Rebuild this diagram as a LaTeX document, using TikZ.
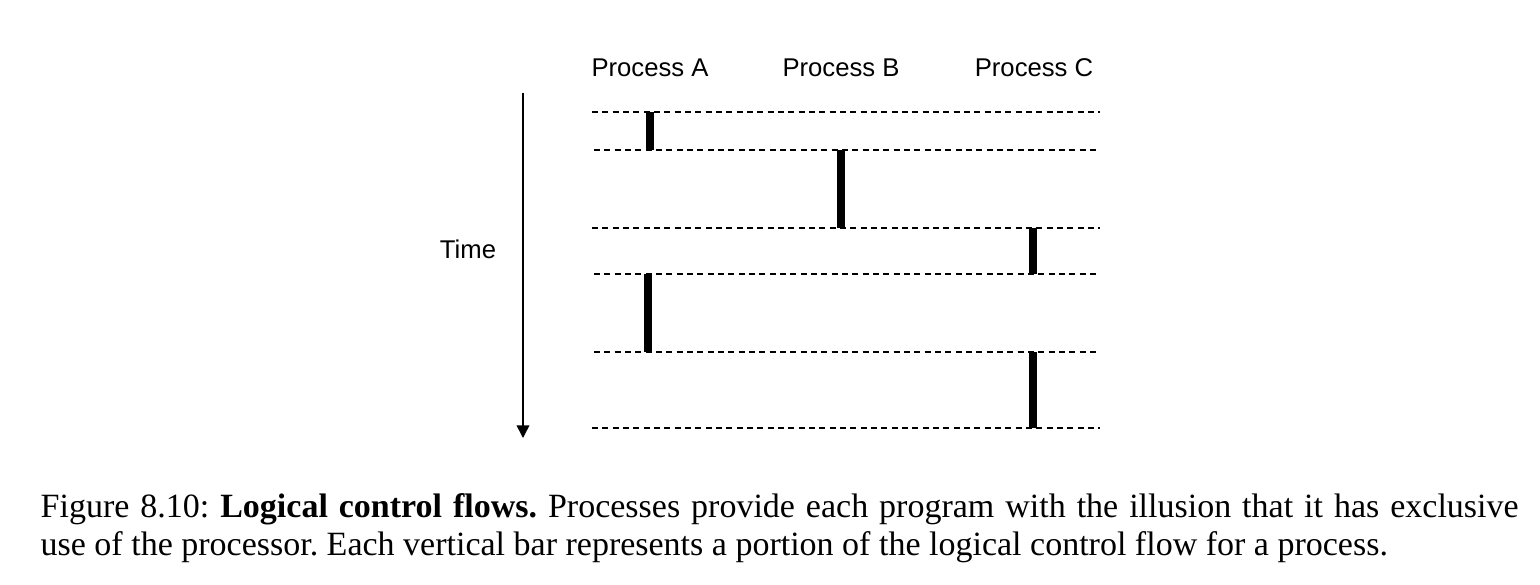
\documentclass[tikz,border=0pt]{standalone}
\usepackage{fontspec}
\setmainfont{Liberation Sans}
\newfontfamily\capfont{Liberation Serif}
\usetikzlibrary{arrows.meta}

\begin{document}
\begin{tikzpicture}[
  x=0.3pt, y=-0.3pt,
  >={Triangle[length=3.8pt, width=3.8pt]},
  slot/.style={draw=black, line width=0.45pt, dash pattern=on 1.8pt off 1.3pt},
  run/.style={draw=black, line width=2.4pt},
  timeax/.style={->, line width=0.45pt},
  lab/.style={font=\fontsize{7.7}{9}\selectfont, inner sep=0pt},
  captext/.style={font=\capfont\fontsize{10.2}{11.6}\selectfont\frenchspacing,
              inner sep=0pt, text width=443.4pt, align=justify},
]
\useasboundingbox (0,0) rectangle (1540,584);

% ------------------------------------------------------------------
% process columns and time axis
% ------------------------------------------------------------------
\node[lab] (pA) at (650,68) {Process A};
\node[lab] (pB) at (841,68) {Process B};
\node[lab] (pC) at (1034,68) {Process C};

\coordinate (tTop) at (523,93);
\coordinate (tEnd) at (523,438);
\draw[timeax] (tTop) -- (tEnd);
\node[lab] (time) at (468,249) {Time};

% ------------------------------------------------------------------
% context switch instants (dashed)
% ------------------------------------------------------------------
\coordinate (s1) at (592,112);  \coordinate (e1) at (1100,112);
\coordinate (s2) at (594,150);  \coordinate (e2) at (1100,150);
\coordinate (s3) at (592,228);  \coordinate (e3) at (1100,228);
\coordinate (s4) at (594,274);  \coordinate (e4) at (1100,274);
\coordinate (s5) at (594,352);  \coordinate (e5) at (1100,352);
\coordinate (s6) at (592,428);  \coordinate (e6) at (1100,428);

\draw[slot] (s1) -- (e1);
\draw[slot] (s2) -- (e2);
\draw[slot] (s3) -- (e3);
\draw[slot] (s4) -- (e4);
\draw[slot] (s5) -- (e5);
\draw[slot] (s6) -- (e6);

% ------------------------------------------------------------------
% portions of each logical flow
% ------------------------------------------------------------------
\draw[run] (pA.south |- s1) -- (pA.south |- s2);
\draw[run] (pB.south |- s2) -- (pB.south |- s3);
\draw[run] ([xshift=-0.3pt]pC.south |- s3) -- ([xshift=-0.3pt]pC.south |- s4);
\draw[run] ([xshift=-0.6pt]pA.south |- s4) -- ([xshift=-0.6pt]pA.south |- s5);
\draw[run] ([xshift=-0.3pt]pC.south |- s5) -- ([xshift=-0.3pt]pC.south |- s6);

% caption
\node[captext, anchor=base west] (caption) at (40,517)
  {Figure 8.10: \textbf{Logical control flows.} Processes provide each program
   with the illusion that it has exclusive\linebreak use of the processor. Each
   vertical bar represents a portion of the logical control flow for a process.};
\end{tikzpicture}
\end{document}
